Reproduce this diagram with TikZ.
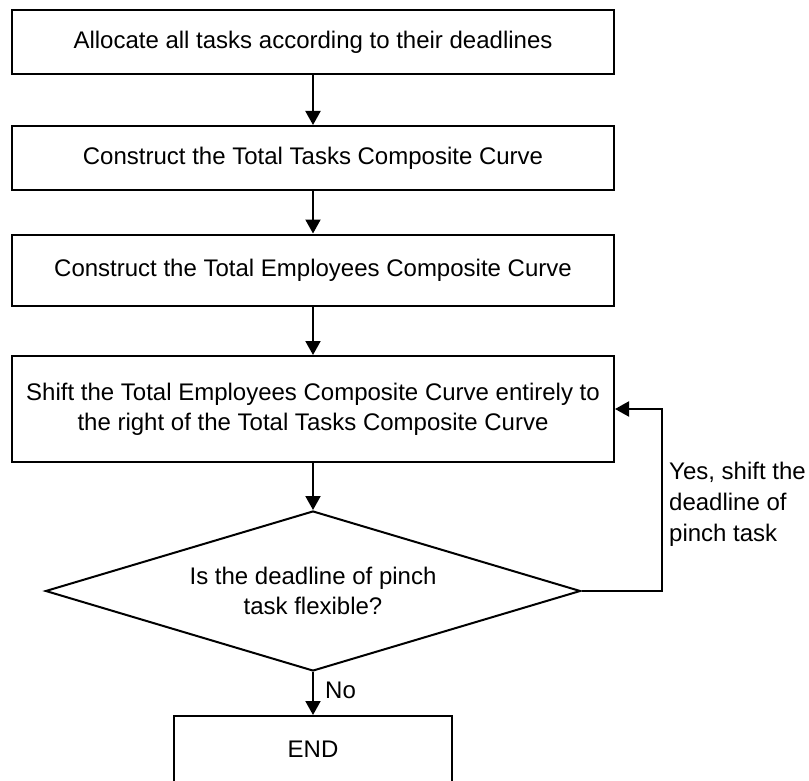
\documentclass[tikz,border=0pt]{standalone}
\usepackage{fontspec}
\setmainfont{Liberation Sans}
\usetikzlibrary{shapes.geometric,arrows.meta}
\tikzstyle{box}=[fill=white, draw=black, shape=rectangle, line width=2pt, minimum width=602pt, align=center, inner sep=0pt]
\tikzstyle{dia}=[fill=white, draw=black, shape=diamond, aspect=3.34, line width=2pt, minimum width=535pt, minimum height=160pt, align=center, inner sep=0pt]
\tikzstyle{lbl}=[anchor=west, inner sep=0pt, align=left]
\tikzstyle{arr}=[line width=2pt, -{Triangle[length=14pt, width=15pt]}]

\begin{document}
\begin{tikzpicture}[x=1pt, y=-1pt, font=\fontsize{24}{30}\selectfont]
		\useasboundingbox [fill=white] (0, 0) rectangle (809, 781);

		\node [style=box, minimum height=64pt] (1) at (313, 42) {Allocate all tasks according to their deadlines};
		\node [style=box, minimum height=64pt] (2) at (313, 158) {Construct the Total Tasks Composite Curve};
		\node [style=box, minimum height=71pt] (3) at (313, 270) {Construct the Total Employees Composite Curve};
		\node [style=box, minimum height=106pt] (4) at (313, 409) {Shift the Total Employees Composite Curve entirely to\\the right of the Total Tasks Composite Curve};
		\node [style=dia] (5) at (313, 591) {Is the deadline of pinch\\task flexible?};
		\node [style=box, minimum width=278pt, minimum height=66pt] (6) at (313, 749) {END};

		\coordinate (7) at (662, 591);

		\node [style=lbl, font=\fontsize{24}{31}\selectfont] (8) at (669, 504) {Yes, shift the\\deadline of\\pinch task};
		\node [style=lbl] (9) at (325, 690) {No};

		\draw [style=arr] (1) to (2);
		\draw [style=arr] (2) to (3);
		\draw [style=arr] (3) to (4);
		\draw [style=arr] (4) to (5);
		\draw [style=arr] (5) to (6);
		\draw [style=arr] (5.east) -- (7) |- (4.east);
	\end{tikzpicture}
\end{document}
